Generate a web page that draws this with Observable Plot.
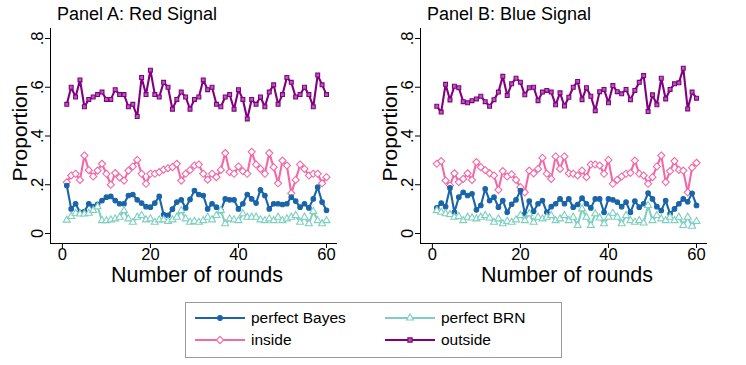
<!DOCTYPE html>
<html><head><meta charset="utf-8">
<script src="https://cdn.jsdelivr.net/npm/d3@7"></script>
<script src="https://cdn.jsdelivr.net/npm/@observablehq/plot@0.6"></script>
<style>
body{margin:0;background:#fff;font-family:"Liberation Sans",Arial,sans-serif;color:#000}
#wrap{position:relative;width:746px;height:365px;overflow:hidden;background:#fff}
.panel{position:absolute;top:0}
.title{position:absolute;top:4px;font-size:18px;white-space:nowrap}
.ylab{position:absolute;font-size:21px;line-height:1;white-space:nowrap;transform:translate(-50%,-50%) rotate(-90deg)}
.xlab{position:absolute;font-size:21.5px;line-height:1;white-space:nowrap;transform:translate(-50%,-50%)}
#legend{position:absolute;left:185px;top:302px;width:377px;height:56px;border:1px solid #9a9a9a;box-sizing:border-box}
.item{position:absolute;font-size:15.5px;display:flex;align-items:center;white-space:nowrap}
.item svg{margin-right:6px}
</style></head><body><div id="wrap"></div>
<script>
const rounds = [1,2,3,4,5,6,7,8,9,10,11,12,13,14,15,16,17,18,19,20,21,22,23,24,25,26,27,28,29,30,
  31,32,33,34,35,36,37,38,39,40,41,42,43,44,45,46,47,48,49,50,51,52,53,54,55,56,57,58,59,60];
const seriesNames = ["perfect Bayes", "perfect BRN", "inside", "outside"];
const seriesColors = ["#1a64a8", "#7fcfc0", "#f468a6", "#800080"];
const yTicks = [0, 0.2, 0.4, 0.6, 0.8];
const xTicks = [0, 20, 40, 60];
const panelTitles = ["Panel A: Red Signal", "Panel B: Blue Signal"];

// Panel A: Red Signal
const aBayes = [.197,.101,.122,.087,.09,.122,.11,.12,.135,.149,
  .152,.135,.122,.122,.156,.16,.138,.125,.11,.108,
  .125,.152,.078,.074,.10,.129,.138,.105,.14,.176,
  .16,.156,.101,.122,.108,.094,.142,.138,.138,.101,
  .122,.16,.142,.125,.179,.156,.101,.122,.122,.119,
  .122,.149,.133,.108,.122,.105,.142,.19,.129,.095];
const aBRN = [.055,.07,.083,.08,.08,.083,.095,.11,.053,.053,
  .056,.06,.067,.094,.06,.046,.067,.074,.056,.06,
  .046,.056,.056,.05,.056,.067,.094,.06,.046,.05,
  .046,.053,.067,.056,.074,.095,.04,.06,.056,.053,
  .081,.067,.067,.067,.056,.053,.06,.053,.067,.053,
  .06,.067,.074,.046,.067,.04,.091,.053,.04,.053];
const aInside = [.21,.238,.245,.22,.32,.26,.234,.258,.286,.245,
  .20,.248,.23,.217,.258,.275,.302,.245,.204,.245,
  .245,.252,.262,.268,.272,.286,.217,.245,.26,.279,
  .283,.245,.221,.245,.231,.261,.33,.252,.245,.275,
  .256,.245,.335,.283,.265,.245,.33,.272,.206,.299,
  .279,.165,.22,.283,.265,.238,.245,.245,.206,.231];
const aOutside = [.53,.60,.56,.63,.52,.55,.56,.57,.58,.55,
  .55,.59,.57,.57,.52,.53,.48,.64,.57,.67,
  .57,.56,.62,.60,.51,.55,.58,.56,.51,.55,
  .56,.63,.59,.60,.53,.52,.56,.57,.51,.59,
  .55,.47,.55,.53,.56,.52,.58,.61,.53,.57,
  .64,.62,.56,.57,.60,.57,.52,.65,.61,.57];

// Panel B: Blue Signal
const bBayes = [.105,.125,.11,.187,.087,.149,.169,.156,.163,.097,
  .115,.183,.135,.149,.108,.135,.087,.12,.138,.176,
  .081,.133,.091,.122,.135,.087,.11,.122,.142,.122,
  .142,.108,.119,.145,.122,.105,.142,.142,.087,.142,
  .138,.129,.11,.129,.087,.133,.108,.122,.166,.142,
  .11,.094,.135,.081,.101,.122,.142,.13,.165,.115];
const bBRN = [.094,.087,.081,.078,.067,.07,.053,.067,.064,.06,
  .067,.074,.064,.046,.06,.04,.05,.046,.056,.074,
  .053,.081,.046,.067,.06,.067,.074,.053,.06,.074,
  .053,.067,.033,.101,.067,.033,.081,.064,.04,.067,
  .083,.067,.04,.074,.053,.046,.053,.043,.115,.053,
  .074,.06,.053,.067,.053,.067,.033,.067,.03,.05];
const bInside = [.286,.297,.217,.197,.247,.211,.224,.247,.220,.293,
  .272,.26,.247,.238,.179,.256,.234,.243,.22,.190,
  .169,.258,.247,.265,.310,.245,.224,.316,.265,.316,
  .247,.245,.238,.258,.231,.283,.283,.279,.245,.302,
  .204,.22,.234,.245,.249,.299,.245,.238,.204,.231,
  .275,.320,.211,.256,.297,.261,.258,.169,.27,.29];
const bOutside = [.522,.498,.612,.548,.604,.598,.541,.536,.545,.552,
  .563,.541,.522,.549,.58,.645,.566,.614,.637,.621,
  .569,.598,.600,.545,.580,.587,.580,.528,.577,.523,
  .559,.600,.624,.549,.598,.563,.504,.582,.591,.536,
  .607,.582,.573,.591,.549,.587,.620,.648,.500,.569,
  .528,.637,.552,.591,.614,.618,.678,.511,.58,.555];

const markerStyle = {
  "perfect Bayes": {symbol: "circle", fill: "#1a64a8", r: 2.3},
  "perfect BRN": {symbol: "triangle", fill: "#ffffff", r: 2.6},
  "inside": {symbol: "diamond2", fill: "#ffffff", r: 3.2},
  "outside": {symbol: "square", fill: "#b35cb3", r: 2.2}
};

const xDom = [-2.7, 62.5];
const yDom = [-0.041, 0.841];
const fmt = d => d === 0 ? "0" : d3.format(".1f")(d).replace(/^0/, "");

function buildPanel(valuesList) {
  const data = [];
  seriesNames.forEach((s, i) => valuesList[i].forEach((v, j) => data.push({series: s, round: rounds[j], value: v})));
  const order = ["outside", "inside", "perfect Bayes", "perfect BRN"];
  const marks = [
    Plot.ruleX([xDom[0]], {stroke: "#000", strokeWidth: 1}),
    Plot.ruleY([yDom[0]], {stroke: "#000", strokeWidth: 1}),
    Plot.axisY({ticks: yTicks, tickFormat: fmt, tickSize: 5, tickRotate: -90, tickPadding: 3, label: null, fontSize: 16.5}),
    Plot.axisX({ticks: xTicks, tickSize: 5, tickPadding: 0, label: null, fontSize: 16.5})
  ];
  for (const s of order) {
    const sub = data.filter(d => d.series === s);
    const m = markerStyle[s];
    marks.push(Plot.line(sub, {x: "round", y: "value", stroke: "series", strokeWidth: 2.1}));
    marks.push(Plot.dot(sub, {x: "round", y: "value", stroke: "series", symbol: () => m.symbol, fill: () => m.fill, r: m.r, strokeWidth: 1.1}));
  }
  return Plot.plot({
    width: 373, height: 300,
    marginLeft: 50, marginRight: 36, marginTop: 28, marginBottom: 57,
    x: {domain: xDom},
    y: {domain: yDom},
    color: {domain: seriesNames, range: seriesColors},
    symbol: {type: "identity"},
    style: {fontFamily: "'Liberation Sans', Arial, sans-serif", fontSize: "16px", color: "#000", background: "transparent", overflow: "visible"},
    marks
  });
}

const wrap = document.getElementById("wrap");
const panels = [[aBayes, aBRN, aInside, aOutside], [bBayes, bBRN, bInside, bOutside]];
panels.forEach((vals, k) => {
  const off = k * 370;
  const div = document.createElement("div");
  div.className = "panel";
  div.style.left = off + "px";
  div.appendChild(buildPanel(vals));
  wrap.appendChild(div);
  const t = document.createElement("div");
  t.className = "title"; t.style.left = (off + 57) + "px"; t.textContent = panelTitles[k];
  wrap.appendChild(t);
  const yl = document.createElement("div");
  yl.className = "ylab"; yl.style.left = (off + 19) + "px"; yl.style.top = "133px"; yl.textContent = "Proportion";
  wrap.appendChild(yl);
  const xl = document.createElement("div");
  xl.className = "xlab"; xl.style.left = (off + 197) + "px"; xl.style.top = "276px"; xl.textContent = "Number of rounds";
  wrap.appendChild(xl);
});

// legend
const legend = document.createElement("div");
legend.id = "legend";
wrap.appendChild(legend);
const legendPos = {"perfect Bayes": [9, 5], "perfect BRN": [199, 5], "inside": [9, 27], "outside": [199, 27]};
const symPaths = {circle: d3.symbol(d3.symbolCircle, 18)(), triangle: d3.symbol(d3.symbolTriangle, 22)(), diamond2: d3.symbol(d3.symbolDiamond2, 34)(), square: d3.symbol(d3.symbolSquare, 18)()};
seriesNames.forEach((s, i) => {
  const [lx, ly] = legendPos[s];
  const m = markerStyle[s];
  const item = document.createElement("div");
  item.className = "item"; item.style.left = lx + "px"; item.style.top = ly + "px";
  const c = seriesColors[i];
  item.innerHTML = `<svg width="50" height="20"><line x1="0" x2="50" y1="10" y2="10" stroke="${c}" stroke-width="2.1"/>` +
    `<path d="${symPaths[m.symbol]}" transform="translate(25,10)" fill="${m.fill}" stroke="${c}" stroke-width="1.1"/></svg><span>${s}</span>`;
  legend.appendChild(item);
});
</script></body></html>
